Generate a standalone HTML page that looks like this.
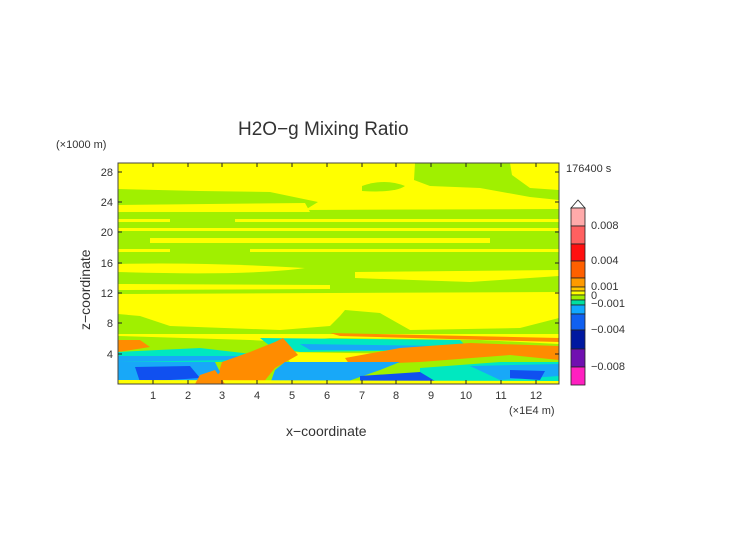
<!DOCTYPE html>
<html><head><meta charset="utf-8"><style>
body{margin:0;background:#fff;}
svg text{font-family:"Liberation Sans",sans-serif;fill:#333;}
</style></head><body>
<svg width="752" height="532" viewBox="0 0 752 532" xmlns="http://www.w3.org/2000/svg">
<rect width="752" height="532" fill="#fff"/>
<text x="238" y="135" font-size="19" fill="#444">H2O−g Mixing Ratio</text>
<text x="56" y="148" font-size="11">(×1000 m)</text>
<text x="566" y="172" font-size="11" fill="#777">176400 s</text>
<defs><clipPath id="c"><rect x="118" y="163" width="441" height="221"/></clipPath></defs>
<g clip-path="url(#c)">
<rect x="118" y="163" width="441" height="221" fill="#ffff00"/>
<g fill="#a0f000">
<path d="M415 163 L510 163 L512 175 L530 188 L559 190 L559 200 L530 197 L480 188 L430 186 L414 180 Z"/>
<path d="M362 186 Q385 178 405 186 Q395 193 362 191 Z"/>
<path d="M118 189 L200 191 L270 192 L318 202 L305 210 L300 214 L118 210 Z"/>
<path d="M300 210 L559 209 L559 296 L118 296 L118 212 Z"/>
</g>
<g fill="#ffff00">
<path d="M118 205 L305 203 L310 212 L118 212 Z"/>
<rect x="118" y="219" width="52" height="3"/>
<rect x="235" y="219" width="324" height="3"/>
<rect x="118" y="228" width="441" height="3"/>
<rect x="150" y="238" width="340" height="5"/>
<rect x="118" y="249" width="52" height="3"/>
<rect x="250" y="249" width="309" height="3"/>
<path d="M118 264 Q200 262 305 268 Q250 276 118 272 Z"/>
<path d="M355 272 L559 270 L559 276 L470 282 L355 278 Z"/>
<path d="M118 284 L330 285 L330 289 L118 290 Z"/>
<path d="M118 294 L559 292 L559 320 L118 320 Z"/>
</g>
<g fill="#a0f000">
<path d="M118 314 L140 316 L170 326 L280 330 L330 326 L340 316 L345 310 L380 313 L410 330 L520 328 L559 318 L559 336 L118 336 Z"/>
</g>
<rect x="118" y="334" width="441" height="4" fill="#ffff00"/>
<path d="M330 333 L559 338 L559 342 L340 336 Z" fill="#ff8c00"/>
<path d="M118 336 L250 340 L290 342 L330 338 L480 340 L559 344 L559 384 L118 384 Z" fill="#a0f000"/>
<path d="M260 338 L460 340 L470 350 L300 352 L270 346 Z" fill="#00e8c0"/>
<path d="M300 344 L450 346 L440 350 L310 350 Z" fill="#18a8f8"/>
<path d="M118 340 L140 340 L150 347 L118 352 Z" fill="#ff8c00"/>
<path d="M118 352 L200 348 L260 355 L240 362 L118 362 Z" fill="#00e8c0"/>
<path d="M118 356 L240 356 L230 360 L118 362 Z" fill="#18a8f8"/>
<path d="M280 352 L420 354 L400 362 L290 362 Z" fill="#ffff00"/>
<path d="M400 348 L470 343 L559 346 L559 360 L510 355 L420 362 L350 365 L345 358 Z" fill="#ff8c00"/>
<path d="M250 352 L275 342 L283 338 L298 355 L275 368 L262 384 L215 384 L222 362 Z" fill="#ff8c00"/>
<path d="M118 362 L215 362 L220 372 L210 384 L118 384 Z" fill="#18a8f8"/>
<path d="M135 367 L190 366 L200 378 L140 382 Z" fill="#1050f0"/>
<path d="M285 362 L400 362 L380 370 L340 384 L270 384 L275 370 Z" fill="#18a8f8"/>
<path d="M420 368 L500 362 L559 362 L559 384 L420 384 Z" fill="#00e8c0"/>
<path d="M470 366 L559 364 L559 376 L500 380 Z" fill="#18a8f8"/>
<path d="M510 370 L545 371 L540 380 L510 378 Z" fill="#1050f0"/>
<path d="M360 376 L420 372 L440 384 L360 384 Z" fill="#1050f0"/>
<path d="M118 380 L559 381 L559 384 L118 384 Z" fill="#ffff00"/>
<path d="M200 375 L215 370 L225 384 L195 384 Z" fill="#ff8c00"/>
</g>
<rect x="118" y="163" width="441" height="221" fill="none" stroke="#444" stroke-width="1"/>
<g stroke="#222" stroke-width="1">
<path d="M153 384v-4M188 384v-4M222 384v-4M257 384v-4M292 384v-4M327 384v-4M362 384v-4M396 384v-4M431 384v-4M466 384v-4M501 384v-4M536 384v-4"/>
<path d="M153 163v4M188 163v4M222 163v4M257 163v4M292 163v4M327 163v4M362 163v4M396 163v4M431 163v4M466 163v4M501 163v4M536 163v4"/>
<path d="M118 354h4M118 323h4M118 293h4M118 263h4M118 232h4M118 202h4M118 172h4"/>
<path d="M559 354h-4M559 323h-4M559 293h-4M559 263h-4M559 232h-4M559 202h-4M559 172h-4"/>
</g>
<g font-size="11" text-anchor="middle">
<text x="153" y="399">1</text><text x="188" y="399">2</text><text x="222" y="399">3</text><text x="257" y="399">4</text><text x="292" y="399">5</text><text x="327" y="399">6</text><text x="362" y="399">7</text><text x="396" y="399">8</text><text x="431" y="399">9</text><text x="466" y="399">10</text><text x="501" y="399">11</text><text x="536" y="399">12</text>
</g>
<g font-size="11" text-anchor="end">
<text x="113" y="358">4</text><text x="113" y="327">8</text><text x="113" y="297">12</text><text x="113" y="267">16</text><text x="113" y="236">20</text><text x="113" y="206">24</text><text x="113" y="176">28</text>
</g>
<text x="509" y="414" font-size="11">(×1E4 m)</text>
<text x="286" y="436" font-size="14">x−coordinate</text>
<text x="0" y="0" font-size="14" transform="translate(90,330) rotate(-90)">z−coordinate</text>
<g stroke="#222" stroke-width="0.8">
<path d="M571 208 L578 200 L585 208 Z" fill="#fff"/>
<rect x="571" y="208" width="14" height="18" fill="#ffaaaa"/>
<rect x="571" y="226" width="14" height="18" fill="#ff6060"/>
<rect x="571" y="244" width="14" height="17" fill="#ff1010"/>
<rect x="571" y="261" width="14" height="17" fill="#ff6000"/>
<rect x="571" y="278" width="14" height="9" fill="#ff9a00"/>
<rect x="571" y="287" width="14" height="4" fill="#ffc800"/>
<rect x="571" y="291" width="14" height="4" fill="#ffff00"/>
<rect x="571" y="295" width="14" height="5" fill="#a0f000"/>
<rect x="571" y="300" width="14" height="5" fill="#00e0a0"/>
<rect x="571" y="305" width="14" height="9" fill="#10a8ff"/>
<rect x="571" y="314" width="14" height="16" fill="#1060f0"/>
<rect x="571" y="330" width="14" height="19" fill="#0018a0"/>
<rect x="571" y="349" width="14" height="18" fill="#7010b0"/>
<rect x="571" y="367" width="14" height="18" fill="#ff20c0"/>
</g>
<g font-size="11">
<text x="591" y="229">0.008</text><text x="591" y="264">0.004</text><text x="591" y="290">0.001</text><text x="591" y="299">0</text><text x="591" y="307">−0.001</text><text x="591" y="333">−0.004</text><text x="591" y="370">−0.008</text>
</g>
</svg>
</body></html>
